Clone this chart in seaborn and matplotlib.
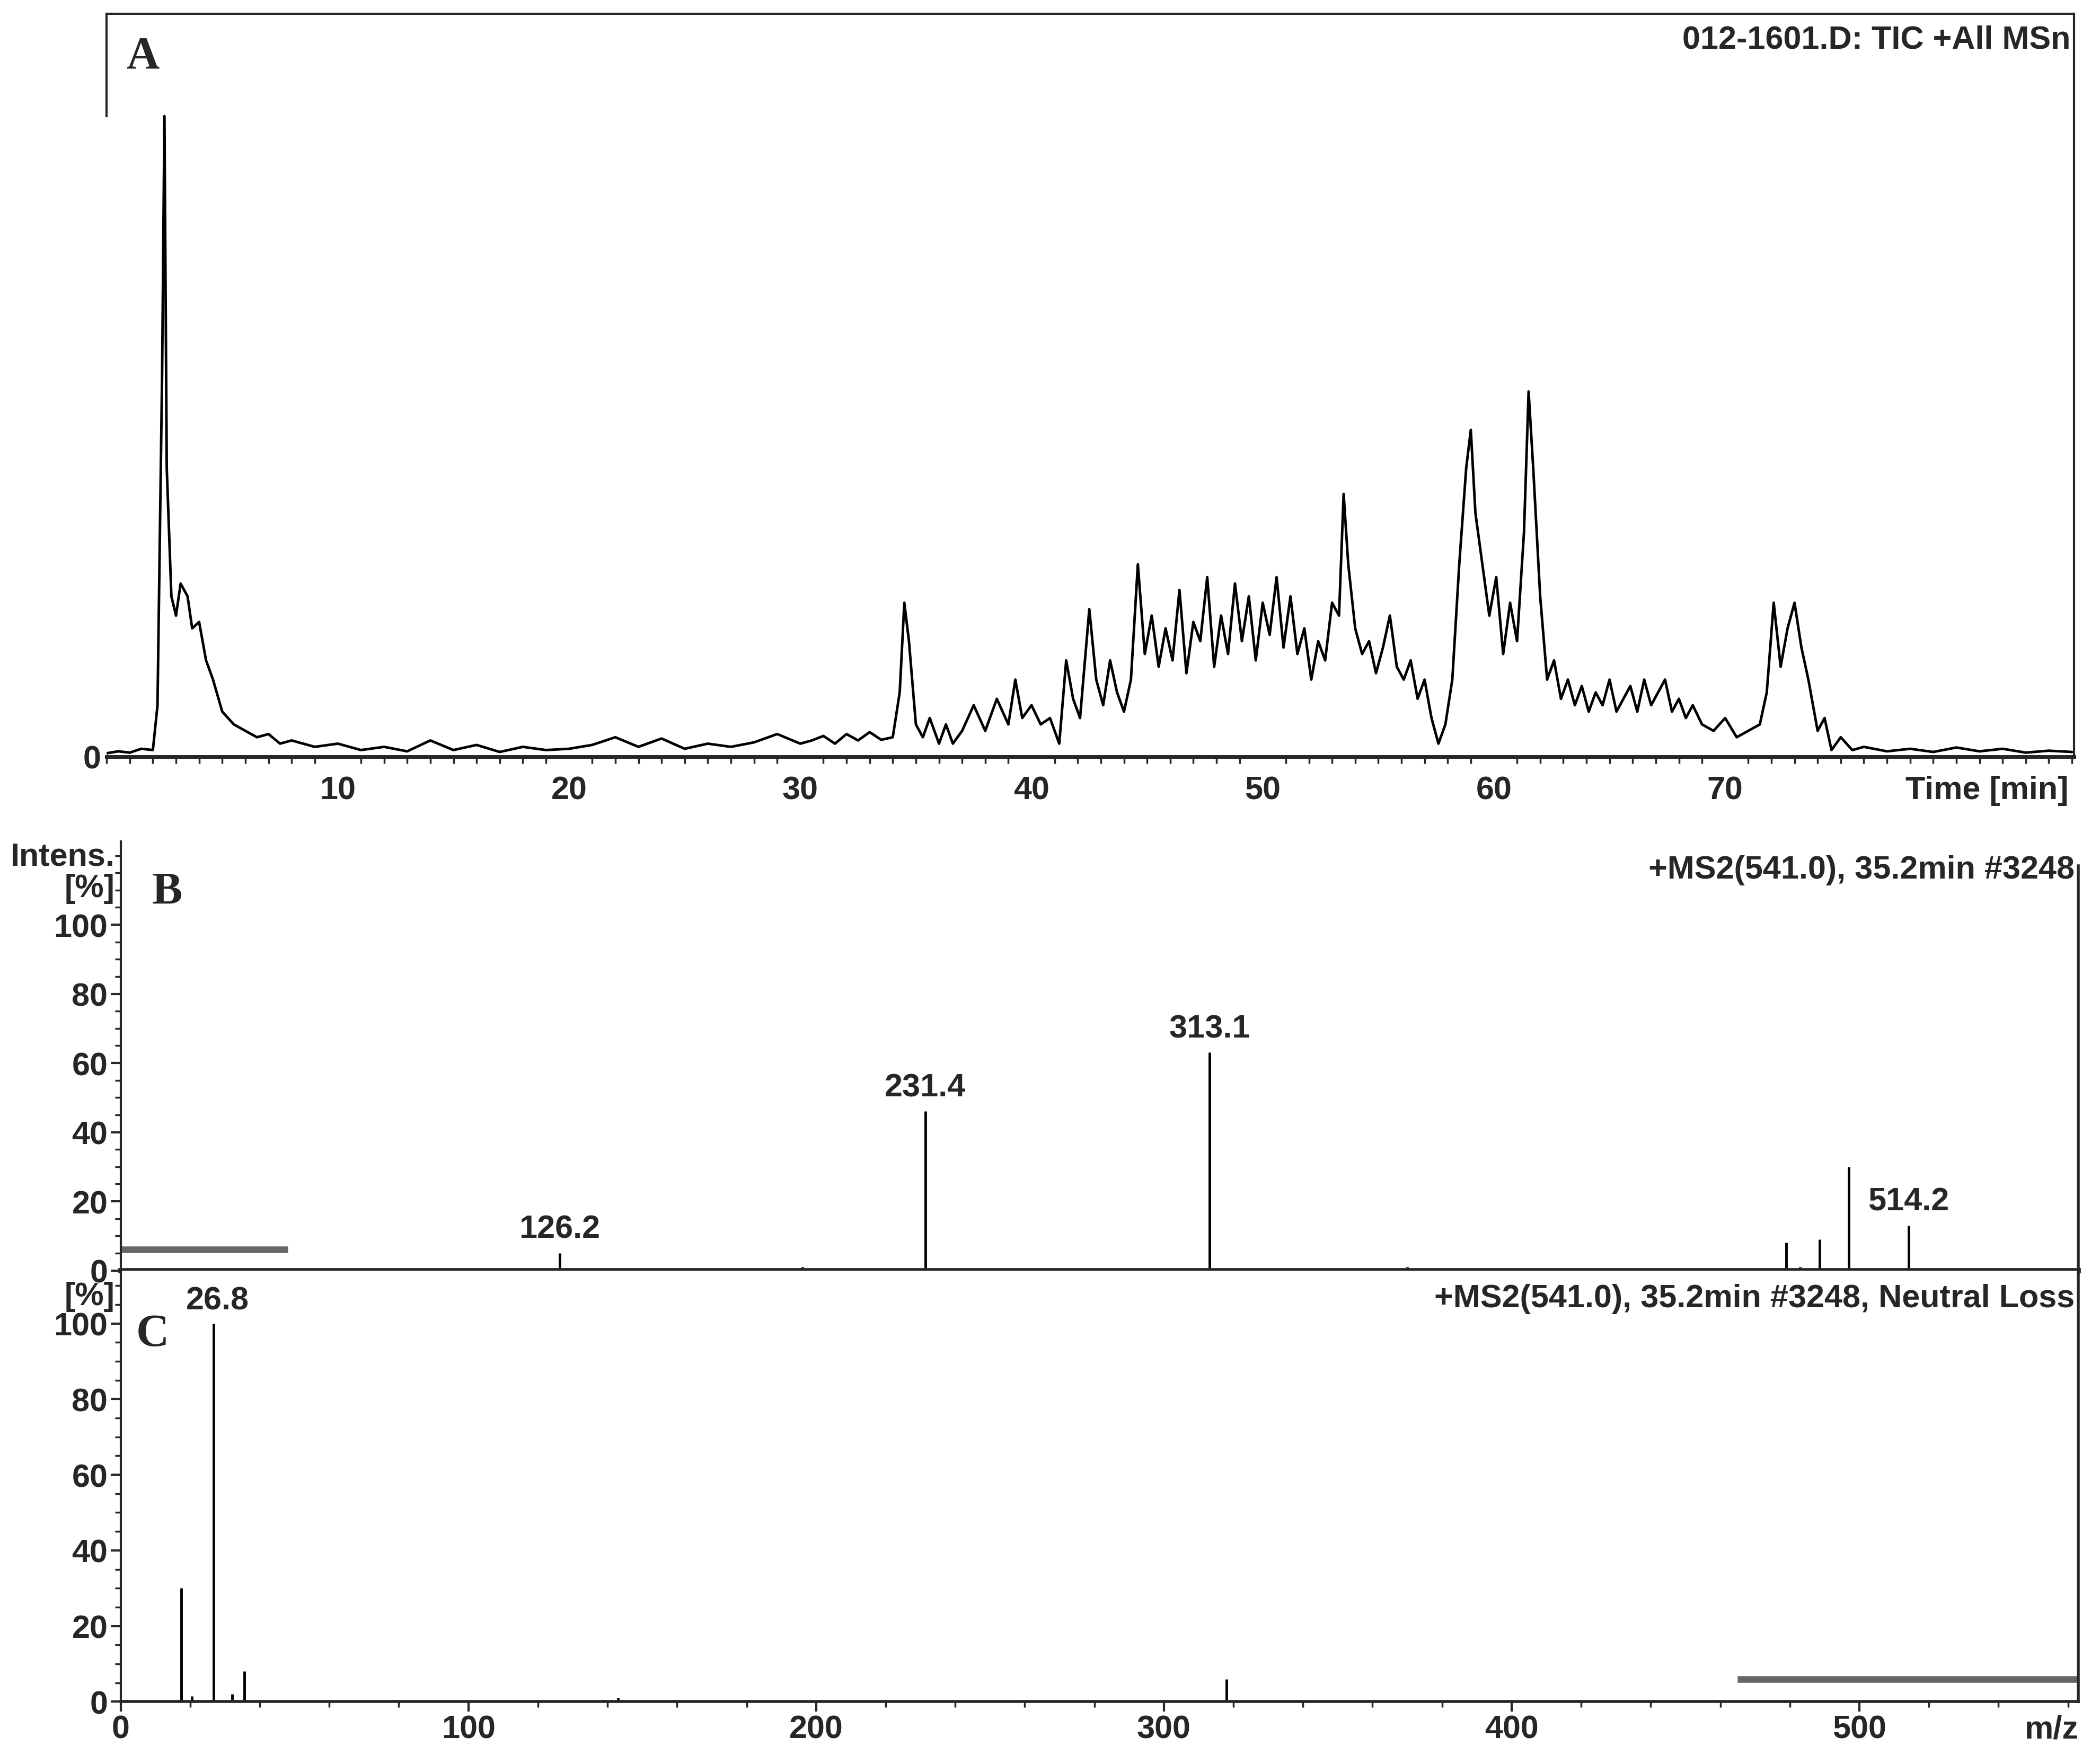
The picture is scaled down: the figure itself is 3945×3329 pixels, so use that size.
"""
TIC chromatogram (A) with MS2 spectrum (B) and neutral-loss spectrum (C).
"""

import matplotlib
matplotlib.use("Agg")
import numpy as np
import pandas as pd
import matplotlib.pyplot as plt
import seaborn as sns
from matplotlib.ticker import MultipleLocator

sns.set_style("white")
plt.rcParams["font.family"] = ["Liberation Sans Narrow", "Liberation Sans", "DejaVu Sans"]

# ---- data: panel A, TIC (relative) ----
tic_time = [0, 0.5, 1, 1.5, 2, 2.2, 2.4, 2.5, 2.6, 2.8, 3.0, 3.2, 3.5, 3.7, 4.0, 4.3, 4.6, 5.0, 5.5,
            6, 6.5, 7, 7.5, 8, 9, 10, 11, 12, 13, 14, 15, 16, 17, 18, 19, 20, 21, 22, 23, 24, 25, 26,
            27, 28, 29, 30, 30.5, 31, 31.5, 32, 32.5, 33, 33.5, 34, 34.3, 34.5, 34.7, 35, 35.3, 35.6,
            36, 36.3, 36.6, 37, 37.5, 38, 38.5, 39, 39.3, 39.6, 40, 40.4, 40.8, 41.2, 41.5, 41.8,
            42.1, 42.5, 42.8, 43.1, 43.4, 43.7, 44, 44.3, 44.6, 44.9, 45.2, 45.5, 45.8, 46.1, 46.4,
            46.7, 47, 47.3, 47.6, 47.9, 48.2, 48.5, 48.8, 49.1, 49.4, 49.7, 50, 50.3, 50.6, 50.9,
            51.2, 51.5, 51.8, 52.1, 52.4, 52.7, 53, 53.3, 53.5, 53.7, 54, 54.3, 54.6, 54.9, 55.2,
            55.5, 55.8, 56.1, 56.4, 56.7, 57, 57.3, 57.6, 57.9, 58.2, 58.5, 58.8, 59, 59.2, 59.5,
            59.8, 60.1, 60.4, 60.7, 61, 61.3, 61.5, 61.7, 62, 62.3, 62.6, 62.9, 63.2, 63.5, 63.8,
            64.1, 64.4, 64.7, 65, 65.3, 65.6, 65.9, 66.2, 66.5, 66.8, 67.1, 67.4, 67.7, 68, 68.3,
            68.6, 69, 69.5, 70, 70.5, 71, 71.5, 71.8, 72.1, 72.4, 72.7, 73, 73.3, 73.6, 74, 74.3,
            74.6, 75, 75.5, 76, 77, 78, 79, 80, 81, 82, 83, 84, 85]
tic_int = [0.5, 0.8, 0.6, 1.2, 1.0, 8, 60, 100, 45, 25, 22, 27, 25, 20, 21, 15, 12, 7, 5,
           4, 3, 3.5, 2, 2.5, 1.5, 2, 1, 1.5, 0.8, 2.5, 1, 1.8, 0.7, 1.5, 1, 1.2, 1.8, 3, 1.5, 2.8, 1.2, 2,
           1.5, 2.2, 3.5, 2, 2.5, 3.2, 2, 3.5, 2.5, 3.8, 2.6, 3, 10, 24, 18, 5, 3, 6,
           2, 5, 2, 4, 8, 4, 9, 5, 12, 6, 8, 5, 6, 2, 15, 9,
           6, 23, 12, 8, 15, 10, 7, 12, 30, 16, 22, 14, 20, 15, 26,
           13, 21, 18, 28, 14, 22, 16, 27, 18, 25, 15, 24, 19, 28, 17,
           25, 16, 20, 12, 18, 15, 24, 22, 41, 30, 20, 16, 18, 13, 17,
           22, 14, 12, 15, 9, 12, 6, 2, 5, 12, 30, 45, 51, 38, 30,
           22, 28, 16, 24, 18, 35, 57, 45, 25, 12, 15, 9, 12, 8, 11,
           7, 10, 8, 12, 7, 9, 11, 7, 12, 8, 10, 12, 7, 9, 6,
           8, 5, 4, 6, 3, 4, 5, 10, 24, 14, 20, 24, 17, 12, 4, 6,
           1, 3, 1, 1.5, 0.8, 1.2, 0.7, 1.4, 0.8, 1.2, 0.6, 0.9, 0.7]

# ---- panel B, MS2 spectrum ----
ms2_mz = [126.2, 196.0, 231.4, 313.1, 370.0, 479.0, 483.0, 488.5, 497.0, 514.2]
ms2_int = [5, 1, 46, 63, 1, 8, 1, 9, 30, 13]
ms2_labels = {126.2: "126.2", 231.4: "231.4", 313.1: "313.1", 514.2: "514.2"}

# ---- panel C, neutral loss spectrum ----
nl_mz = [17.5, 20.5, 26.8, 32.0, 35.5, 143.0, 318.0]
nl_int = [30, 1.5, 100, 2, 8, 1, 6]
nl_labels = {26.8: "26.8"}

FS = 44
BOLD = "bold"

fig = plt.figure(figsize=(39.45, 33.30), dpi=100)
ax_a = fig.add_axes([0.051, 0.571, 0.941, 0.421])
ax_b = fig.add_axes([0.0577, 0.2797, 0.9363, 0.243])
ax_c = fig.add_axes([0.0577, 0.0353, 0.9363, 0.2444])

# ---------------- A ----------------
df_a = pd.DataFrame({"t": tic_time, "i": tic_int})
sns.lineplot(data=df_a, x="t", y="i", ax=ax_a, color="black", linewidth=3.5, estimator=None)
ax_a.set_xlim(0, 85.1)
ax_a.set_ylim(0, 116)
ax_a.set_xlabel("")
ax_a.set_ylabel("")
ax_a.set_xticks([10, 20, 30, 40, 50, 60, 70])
ax_a.xaxis.set_minor_locator(MultipleLocator(1))
ax_a.set_yticks([0])
ax_a.tick_params(axis="x", which="major", length=16, width=3, labelsize=FS, pad=10)
ax_a.tick_params(axis="x", which="minor", length=9, width=2.5, bottom=True)
ax_a.tick_params(axis="y", length=0, labelsize=FS, pad=8)
for lab in ax_a.get_xticklabels() + ax_a.get_yticklabels():
    lab.set_fontweight(BOLD)
for side in ["top", "right"]:
    ax_a.spines[side].set_linewidth(3)
ax_a.spines["bottom"].set_linewidth(5)
ax_a.spines["left"].set_bounds(100, 116)
ax_a.spines["left"].set_linewidth(3)
ax_a.text(0.998, 0.985, "012-1601.D: TIC +All MSn", transform=ax_a.transAxes,
          ha="right", va="top", fontsize=FS, fontweight=BOLD)
ax_a.text(0.997, -0.025, "Time [min]", transform=ax_a.transAxes,
          ha="right", va="top", fontsize=FS, fontweight=BOLD)
ax_a.text(0.01, 0.97, "A", transform=ax_a.transAxes, ha="left", va="top",
          fontsize=62, fontweight=BOLD, family="Liberation Serif")

# ---------------- B ----------------
ax_b.vlines(ms2_mz, 0, ms2_int, color="black", linewidth=3.5)
for mz, lab in ms2_labels.items():
    ax_b.text(mz, ms2_int[ms2_mz.index(mz)] + 2.5, lab, ha="center", va="bottom",
              fontsize=FS, fontweight=BOLD)
ax_b.plot([0, 48], [6, 6], color="#666666", linewidth=9, solid_capstyle="butt")
ax_b.set_xlim(0, 563)
ax_b.set_ylim(0, 124)
ax_b.set_xticks([])
ax_b.set_yticks([0, 20, 40, 60, 80, 100])
ax_b.set_yticks([y for y in range(0, 121, 5)], minor=True)
ax_b.tick_params(axis="y", which="major", length=14, width=3, labelsize=FS, left=True)
ax_b.tick_params(axis="y", which="minor", length=8, width=2.5, left=True)
for lab in ax_b.get_yticklabels():
    lab.set_fontweight(BOLD)
ax_b.spines["top"].set_visible(False)
ax_b.spines["bottom"].set_linewidth(7)
ax_b.spines["left"].set_linewidth(3)
ax_b.spines["right"].set_linewidth(4)
ax_b.spines["right"].set_bounds(0, 117)
ax_b.text(0.998, 0.97, "+MS2(541.0), 35.2min #3248", transform=ax_b.transAxes,
          ha="right", va="top", fontsize=FS, fontweight=BOLD)
ax_b.text(-0.003, 1.0, "Intens.\n[%]", transform=ax_b.transAxes, ha="right", va="top",
          fontsize=FS, fontweight=BOLD, linespacing=1.05)
ax_b.text(0.016, 0.93, "B", transform=ax_b.transAxes, ha="left", va="top",
          fontsize=62, fontweight=BOLD, family="Liberation Serif")

# ---------------- C ----------------
ax_c.vlines(nl_mz, 0, nl_int, color="black", linewidth=3.5)
for mz, lab in nl_labels.items():
    ax_c.text(mz + 1, nl_int[nl_mz.index(mz)] + 2, lab, ha="center", va="bottom",
              fontsize=FS, fontweight=BOLD)
ax_c.plot([465, 563], [6, 6], color="#666666", linewidth=9, solid_capstyle="butt")
ax_c.set_xlim(0, 563)
ax_c.set_ylim(0, 114)
ax_c.set_xticks([0, 100, 200, 300, 400, 500])
ax_c.xaxis.set_minor_locator(MultipleLocator(20))
ax_c.set_yticks([0, 20, 40, 60, 80, 100])
ax_c.set_yticks([y for y in range(0, 111, 5)], minor=True)
ax_c.tick_params(axis="x", which="major", length=14, width=3, labelsize=FS, bottom=True)
ax_c.tick_params(axis="x", which="minor", length=8, width=2.5, bottom=True)
ax_c.tick_params(axis="y", which="major", length=14, width=3, labelsize=FS, left=True)
ax_c.tick_params(axis="y", which="minor", length=8, width=2.5, left=True)
for lab in ax_c.get_xticklabels() + ax_c.get_yticklabels():
    lab.set_fontweight(BOLD)
ax_c.spines["top"].set_visible(False)
ax_c.spines["bottom"].set_linewidth(4)
ax_c.spines["left"].set_linewidth(3)
ax_c.spines["right"].set_linewidth(4)
ax_c.text(0.998, 0.97, "+MS2(541.0), 35.2min #3248, Neutral Loss", transform=ax_c.transAxes,
          ha="right", va="top", fontsize=FS, fontweight=BOLD)
ax_c.text(-0.003, 0.975, "[%]", transform=ax_c.transAxes, ha="right", va="top",
          fontsize=FS, fontweight=BOLD)
ax_c.text(1.0, -0.03, "m/z", transform=ax_c.transAxes, ha="right", va="top",
          fontsize=FS, fontweight=BOLD)
ax_c.text(0.008, 0.90, "C", transform=ax_c.transAxes, ha="left", va="top",
          fontsize=62, fontweight=BOLD, family="Liberation Serif")

fig.savefig("out.png", dpi=100)
